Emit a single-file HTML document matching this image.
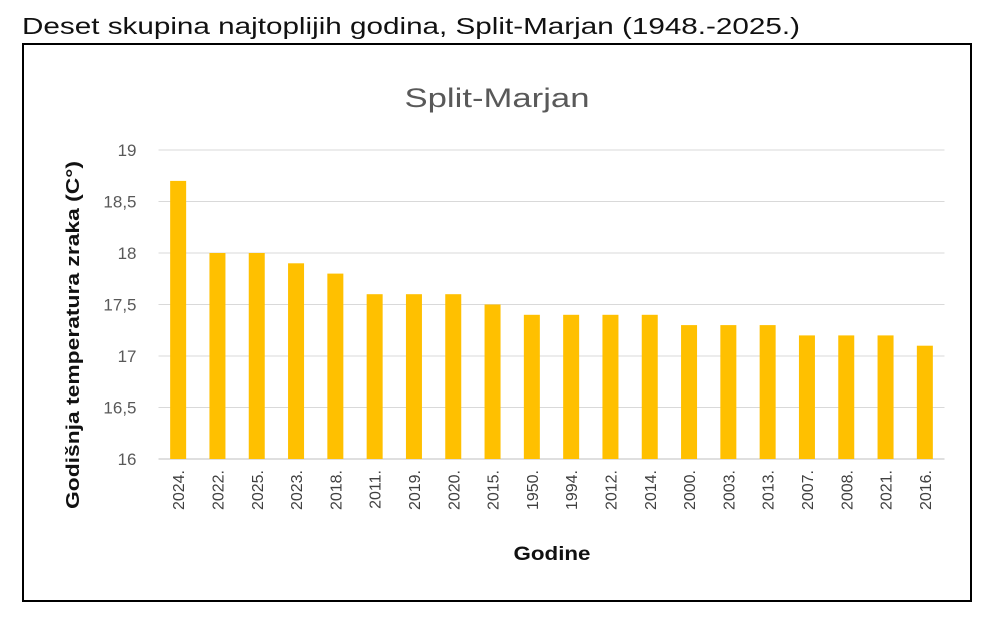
<!DOCTYPE html>
<html><head><meta charset="utf-8"><style>
body{margin:0;background:#fff;width:1000px;height:620px;overflow:hidden;font-family:"Liberation Sans",sans-serif}
</style></head><body>
<svg width="1000" height="620">
<text x="22" y="34" font-size="23" fill="#111" textLength="778" lengthAdjust="spacingAndGlyphs">Deset skupina najtoplijih godina, Split-Marjan (1948.-2025.)</text>
<rect x="23" y="44" width="948" height="557" fill="#fff" stroke="#000" stroke-width="2"/>
<text x="497" y="107" font-size="27" fill="#595959" text-anchor="middle" textLength="185" lengthAdjust="spacingAndGlyphs">Split-Marjan</text>
<g id="grid"></g><g id="bars"></g><g id="yt"></g><g id="xt"></g>
<text transform="translate(79,335) rotate(-90)" font-size="18" font-weight="bold" fill="#111" text-anchor="middle" textLength="348" lengthAdjust="spacingAndGlyphs">Godišnja  temperatura zraka (C°)</text>
<text x="552" y="560" font-size="19" font-weight="bold" fill="#111" text-anchor="middle" textLength="77" lengthAdjust="spacingAndGlyphs">Godine</text>
</svg>
<script>
const categories=["2024.","2022.","2025.","2023.","2018.","2011.","2019.","2020.","2015.","1950.","1994.","2012.","2014.","2000.","2003.","2013.","2007.","2008.","2021.","2016."];
const values=[18.7,18.0,18.0,17.9,17.8,17.6,17.6,17.6,17.5,17.4,17.4,17.4,17.4,17.3,17.3,17.3,17.2,17.2,17.2,17.1];
const yTicks=[16,16.5,17,17.5,18,18.5,19];
const yTickLabels=["16","16,5","17","17,5","18","18,5","19"];
const L=158.5,R=944.5,T=150,B=459,yMin=16,yMax=19;
const ns="http://www.w3.org/2000/svg";
const y=v=>B-(v-yMin)/(yMax-yMin)*(B-T);
const bw=(R-L)/categories.length;
const x=i=>L+bw*(i+0.5);
function mk(t,a,p){const e=document.createElementNS(ns,t);for(const k in a)e.setAttribute(k,a[k]);p.appendChild(e);return e;}
const g=document.getElementById('grid'),b=document.getElementById('bars'),yt=document.getElementById('yt'),xt=document.getElementById('xt');
yTicks.forEach((v,i)=>{
 const ln=mk('line',{x1:L,x2:R,y1:y(v),y2:y(v),stroke:i===0?'#bfbfbf':'#d9d9d9','stroke-width':1},g);
 
 
 const t=mk('text',{x:L-22,y:y(v)+6,'font-size':17,fill:'#595959','text-anchor':'end'},yt);
 t.textContent=yTickLabels[i];
 
 
});
categories.forEach((c,i)=>{
 const r=mk('rect',{x:x(i)-8,y:y(values[i]),width:16,height:B-y(values[i]),fill:'#FFC000'},b);
 
 
 const t=mk('text',{transform:`translate(${x(i)+6},470) rotate(-90)`,'font-size':16,fill:'#404040','text-anchor':'end'},xt);
 t.textContent=c;
 
 
});
</script>
</body></html>
